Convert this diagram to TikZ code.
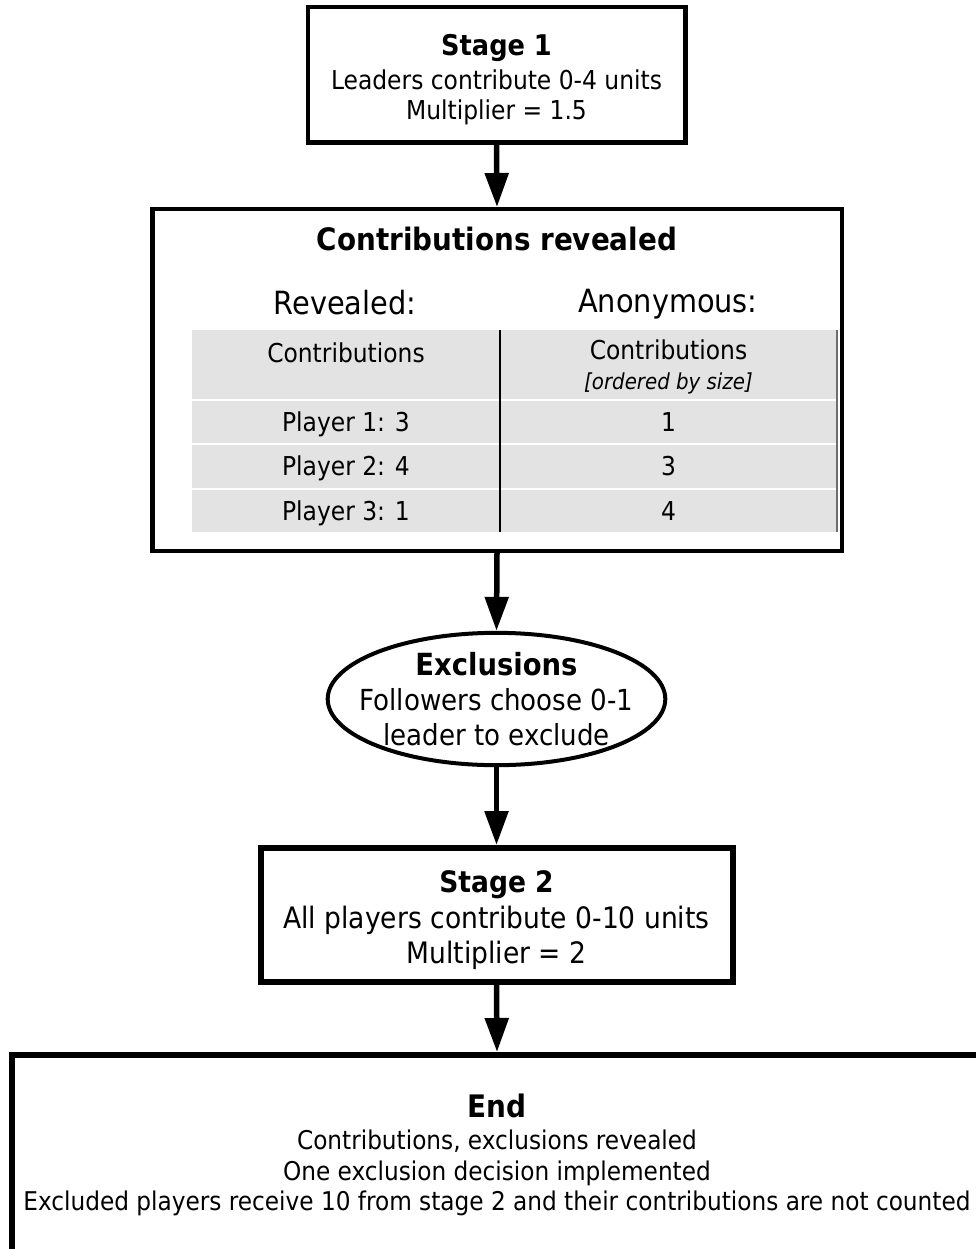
\documentclass[tikz,border=0pt]{standalone}
\usepackage{fontspec}
\setmainfont{DejaVu Sans Condensed}[
  BoldFont={DejaVu Sans Condensed Bold},
  ItalicFont={DejaVu Sans Condensed Oblique}]
\usetikzlibrary{shapes.geometric,arrows.meta}
\definecolor{cellgray}{RGB}{227,227,227}
\definecolor{edgegray}{RGB}{110,110,110}

\begin{document}
\begin{tikzpicture}[x=1pt, y=-1pt,
    every node/.style={align=center, inner sep=0pt},
    stagebox/.style={draw, rectangle},
    cell/.style={fill=cellgray, outer sep=0pt,
                 text height=24pt, text depth=6pt,
                 font=\fontsize{26}{30}\selectfont},
    flow/.style={line width=5.5pt,
                 -{Triangle[width=23pt,length=34pt]}}]
  \useasboundingbox (0, 0) rectangle (976, 1249);

  \node[stagebox, line width=4.5pt, minimum width=377.5pt,
        minimum height=135.5pt,
        font=\fontsize{26}{30}\selectfont] (stageone) at (496.5, 75)
        {{\fontsize{28.5}{34}\selectfont\bfseries\rule{0pt}{31pt}Stage 1}\\[4pt]
         Leaders contribute 0-4 units\\ Multiplier = 1.5};

  \node[stagebox, line width=4.5pt, minimum width=689.5pt,
        minimum height=341.5pt] (revealbox) at (497, 380) {};
  \node[font=\fontsize{30.9}{36}\selectfont\bfseries] (revtitle)
        at (497, 239) {Contributions revealed};
  \node[font=\fontsize{32}{38}\selectfont] (revhead) at (345, 303) {Revealed:};
  \node[font=\fontsize{32}{38}\selectfont] (anonhead) at (668, 304) {Anonymous:};

  % table
  \node[cell, minimum width=308pt, minimum height=69pt,
        text height=, text depth=] (hdrL) at (346, 364.5)
        {\rule{0pt}{25pt}Contributions\\ {\fontsize{22}{26}\selectfont\mbox{}}};
  \node[cell, minimum width=337pt, minimum height=69pt,
        text height=, text depth=] (hdrR) at (668.5, 364.5)
        {\rule{0pt}{25pt}Contributions\\ {\fontsize{22}{26}\selectfont\itshape [ordered by size]}};
  \node[cell, minimum width=308pt, minimum height=42.5pt] (rowL1) at (346, 422) {Player 1: 3};
  \node[cell, minimum width=337pt, minimum height=42.5pt] (rowR1) at (668.5, 422) {1};
  \node[cell, minimum width=308pt, minimum height=42.5pt] (rowL2) at (346, 466.5) {Player 2: 4};
  \node[cell, minimum width=337pt, minimum height=42.5pt] (rowR2) at (668.5, 466.5) {3};
  \node[cell, minimum width=308pt, minimum height=42.5pt] (rowL3) at (346, 511) {Player 3: 1};
  \node[cell, minimum width=337pt, minimum height=42.5pt] (rowR3) at (668.5, 511) {4};
  \draw[line width=1.2pt] (hdrL.north east) -- (rowL3.south east);
  \draw[edgegray, line width=1.5pt] (hdrR.north east) -- (rowR3.south east);

  \node[draw, ellipse, line width=4pt, minimum width=335pt,
        minimum height=128pt, inner xsep=-17.5pt,
        font=\fontsize{29}{35}\selectfont] (exclusions) at (496.5, 699)
        {{\fontsize{30.5}{35}\selectfont\bfseries Exclusions}\\
         Followers choose 0-1\\ leader to exclude};

  \node[stagebox, line width=6pt, minimum width=472pt,
        minimum height=134pt,
        font=\fontsize{29.5}{35}\selectfont] (stagetwo) at (496.5, 915)
        {{\fontsize{29.5}{35}\selectfont\bfseries\rule{0pt}{32pt}Stage 2}\\[1pt]
         All players contribute 0-10 units\\ Multiplier = 2};

  \node[stagebox, line width=5.5pt, minimum width=970pt,
        minimum height=200pt,
        font=\fontsize{25.8}{30.5}\selectfont] (endbox) at (497, 1154.75)
        {{\fontsize{31}{33}\selectfont\bfseries End}\\[2pt]
         Contributions, exclusions revealed\\
         One exclusion decision implemented\\
         Excluded players receive 10 from stage 2 and their contributions are not counted};

  \foreach \i/\j in {stageone/revealbox, revealbox/exclusions,
                     exclusions/stagetwo, stagetwo/endbox} {
          \draw[flow] (\i.south) -- (\j.north);
      }
\end{tikzpicture}
\end{document}
